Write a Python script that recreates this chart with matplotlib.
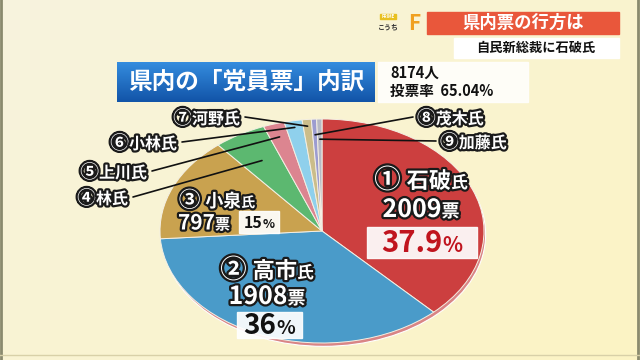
import numpy as np
import matplotlib
matplotlib.use('Agg')
import matplotlib.pyplot as plt
import matplotlib.patheffects as pe
from matplotlib.patches import Rectangle, Ellipse

plt.rcParams['font.family'] = ['Noto Sans CJK JP', 'DejaVu Sans']

# --- data ---
marks = ['①', '②', '③', '④', '⑤', '⑥', '⑦', '⑧', '⑨']
names = ['石破', '高市', '小泉', '林', '上川', '小林', '河野', '茂木', '加藤']
votes = [2009, 1908, 797, 276, 112, 95, 48, 28, 28]
colors = ['#cc3f3f', '#4a9bc9', '#c9a24f', '#5cb870', '#dc8590',
          '#8fd0ec', '#cbbd8a', '#9c9cd0', '#b7b9c4']
pct_decimals = [1, 0, 0]
members = 8174
turnout = 65.04

title = '県内の「党員票」内訳'
header = '県内票の行方は'
subheader = '自民新総裁に石破氏'

fig = plt.figure(figsize=(6.4, 3.6), dpi=100)

# background gradient
bg = fig.add_axes([0, 0, 1, 1])
bg.set_axis_off()
gx, gy = np.meshgrid(np.linspace(0, 1, 64), np.linspace(0, 1, 36))
g = (gx * 0.6 + gy * 0.4)[..., None]
c0 = np.array([247, 243, 222]) / 255
c1 = np.array([252, 243, 196]) / 255
bg.imshow(c0 * (1 - g) + c1 * g, extent=[0, 640, 360, 0], aspect='auto')
bg.set_xlim(0, 640)
bg.set_ylim(360, 0)

# pie (ellipse because aspect is left free)
ax = fig.add_axes([160 / 640, 17 / 360, 324 / 640, 224 / 360])
ax.add_patch(Ellipse((0.01, -0.03), 2.0, 2.0, facecolor='#d98585',
                     edgecolor='white', lw=0.8, clip_on=False, zorder=0))
wedges, _ = ax.pie(votes, colors=colors, startangle=90, counterclock=False,
                   radius=1.0, wedgeprops=dict(edgecolor='#f4f0e4', linewidth=0.7))
for w in wedges:
    w.set_zorder(1)
ax.set_aspect('auto')
ax.set_xlim(-1, 1)
ax.set_ylim(-1, 1)
ax.set_axis_off()

# overlay in pixel coordinates
ov = fig.add_axes([0, 0, 1, 1], facecolor='none')
ov.set_xlim(0, 640)
ov.set_ylim(360, 0)
ov.set_axis_off()

stroke = [pe.withStroke(linewidth=3.2, foreground='#1a1a1a')]
r = fig.canvas.get_renderer()


def runs(x, y, parts, ha='center', outline=True):
    # draw text pieces of mixed size on one baseline, returns (left, right)
    objs = []
    for s, size, col in parts:
        t = ov.text(0, y, s, fontsize=size, color=col, fontweight='bold',
                    va='baseline', ha='left', zorder=5)
        if outline:
            t.set_path_effects(stroke)
        objs.append(t)
    widths = [t.get_window_extent(r).width for t in objs]
    if ha == 'center':
        x0 = x - sum(widths) / 2
    elif ha == 'right':
        x0 = x - sum(widths)
    else:
        x0 = x
    left = x0
    for t, wd in zip(objs, widths):
        t.set_x(x0)
        x0 += wd
    return left, x0


# frame lines
ov.plot([1, 1], [0, 360], color='#8a8a6e', lw=2)
ov.plot([637.5, 637.5], [0, 360], color='#8a8a6e', lw=2)
ov.plot([0, 640], [355, 355], color='#d8d0a8', lw=1)

# header
ov.add_patch(Rectangle((427, 12), 192, 22, color='#e9573b'))
ov.text(523, 23, header, color='white', fontsize=12.5, fontweight='bold',
        ha='center', va='center')
ov.add_patch(Rectangle((454, 38), 165, 20, color='white'))
ov.text(536, 48, subheader, color='#111111', fontsize=9.5, fontweight='bold',
        ha='center', va='center')
ov.add_patch(Rectangle((380, 14), 16, 5, color='#e8c020'))
ov.text(388, 16.5, 'PRIME', color='white', fontsize=3, fontweight='bold',
        ha='center', va='center')
ov.text(388, 27, 'こうち', color='#333333', fontsize=5, fontweight='bold',
        ha='center', va='center')
ov.text(414, 23, 'F', color='#f0a020', fontsize=15, fontweight='bold',
        ha='center', va='center')

# title box with gradient
tg = np.linspace(0, 1, 40)[:, None, None]
top = np.array([52, 140, 222]) / 255
bot = np.array([18, 84, 168]) / 255
ov.imshow(np.repeat(top * (1 - tg) + bot * tg, 2, axis=1),
          extent=[117, 375, 102, 62], aspect='auto', zorder=2)
ov.text(246, 82, title, color='white', fontsize=17, fontweight='bold',
        ha='center', va='center', zorder=3)
ov.add_patch(Rectangle((378, 62), 150, 40, color='white', alpha=0.85, zorder=2))
ov.text(390, 73, f'{members}人', color='#111111', fontsize=10.5,
        fontweight='bold', ha='left', va='center', zorder=3)
ov.text(390, 91, f'投票率  {turnout:.2f}%', color='#111111', fontsize=10.5,
        fontweight='bold', ha='left', va='center', zorder=3)
ov.set_xlim(0, 640)
ov.set_ylim(360, 0)

# in-pie labels for the top three
tot = sum(votes)
pct = [f'{v / tot * 100:.{d}f}' for v, d in zip(votes[:3], pct_decimals)]
white = 'white'

runs(421, 188, [(marks[0] + ' ', 19, white), (names[0], 16, white), ('氏', 12, white)])
runs(421, 217, [(str(votes[0]), 18, white), ('票', 13, white)])
ov.add_patch(Rectangle((367, 227), 110, 31, color='white', alpha=0.92, zorder=4))
runs(422, 252.5, [(pct[0], 21, '#c0141e'), ('%', 15, '#c0141e')], outline=False)

runs(267, 278, [(marks[1] + ' ', 19, white), (names[1], 16, white), ('氏', 12, white)])
runs(267, 304, [(str(votes[1]), 18, white), ('票', 13, white)])
ov.add_patch(Rectangle((237, 312), 65, 26, color='white', alpha=0.92, zorder=4))
runs(269.5, 334, [(pct[1], 20, '#111111'), ('%', 14, '#111111')], outline=False)

runs(217, 207, [(marks[2] + ' ', 15.5, white), (names[2], 13, white), ('氏', 10, white)])
runs(178, 229.5, [(str(votes[2]), 15, white), ('票', 11, white)], ha='left')
ov.add_patch(Rectangle((239, 211), 40, 22, color='white', alpha=0.92, zorder=4))
runs(259, 227.5, [(pct[2], 11.5, '#111111'), ('%', 9, '#111111')], outline=False)

# outside labels with leader lines (④ .. ⑨)
lab_pos = [(128, 198, 'right'), (147, 172, 'right'), (177, 143, 'right'),
           (240, 118, 'right'), (417, 118, 'left'), (440, 142, 'left')]
lab_r = [0.73, 0.88, 0.94, 0.94, 0.86, 0.82]
for i, (tx, ty, ha), rr in zip(range(3, 9), lab_pos, lab_r):
    left, right = runs(tx, ty + 6, [(marks[i], 13.5, white), (names[i] + '氏', 11.5, white)], ha=ha)
    sx = right + 5 if ha == 'right' else left - 4
    w = wedges[i]
    ang = np.deg2rad((w.theta1 + w.theta2) / 2)
    ax.annotate('', xy=(rr * np.cos(ang), rr * np.sin(ang)), xycoords='data',
                xytext=(sx, ty - 1), textcoords=ov.transData,
                arrowprops=dict(arrowstyle='-', color='#111111', lw=1.2,
                                shrinkA=0, shrinkB=0),
                annotation_clip=False, zorder=6)

fig.savefig('out.png', dpi=100)
